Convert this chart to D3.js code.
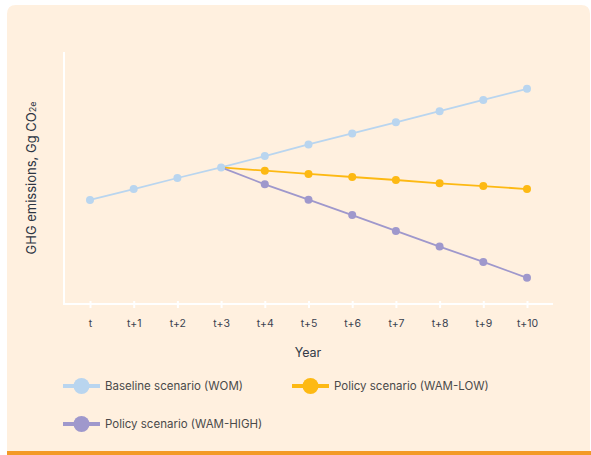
<!DOCTYPE html>
<html>
<head>
<meta charset="utf-8">
<script src="https://cdn.jsdelivr.net/npm/d3@7"></script>
<style>
  html, body { margin: 0; padding: 0; background: #ffffff; }
  svg { display: block; }
  text { font-family: Inter, "Noto Sans", sans-serif; }
</style>
</head>
<body>
<svg id="chart" width="591" height="455"></svg>
<script>
// Years on the x axis
const years = ["t", "t+1", "t+2", "t+3", "t+4", "t+5", "t+6", "t+7", "t+8", "t+9", "t+10"];

// Emission index values per scenario (null = not part of that scenario)
const baselineWOM = [41.3, 45.6, 50.0, 54.2, 58.7, 63.3, 67.7, 72.1, 76.5, 81.0, 85.4];
const policyWAMLow = [null, null, null, 54.2, 52.9, 51.6, 50.4, 49.2, 47.9, 46.8, 45.6];
const policyWAMHigh = [null, null, null, 54.2, 47.5, 41.4, 35.3, 29.0, 22.8, 16.7, 10.4];

const seriesNames = ["Baseline scenario (WOM)", "Policy scenario (WAM-LOW)", "Policy scenario (WAM-HIGH)"];
const seriesColors = ["#b9d5ef", "#fdb913", "#9f98cc"];

const svg = d3.select("#chart");

// Card background with rounded top corners and orange bottom rule
const panel = { x: 7, y: 5, w: 583, h: 450, r: 9 };
svg.append("path")
  .attr("d", `M${panel.x},${panel.y + panel.h} V${panel.y + panel.r} Q${panel.x},${panel.y} ${panel.x + panel.r},${panel.y} H${panel.x + panel.w - panel.r} Q${panel.x + panel.w},${panel.y} ${panel.x + panel.w},${panel.y + panel.r} V${panel.y + panel.h} Z`)
  .attr("fill", "#fff0df");
svg.append("rect")
  .attr("x", panel.x).attr("y", 451).attr("width", 591 - panel.x).attr("height", 4)
  .attr("fill", "#f39a26");

const plot = { left: 64, right: 553, top: 52, bottom: 304 };

const x = d3.scalePoint()
  .domain(years)
  .range([90, 527]);

const y = d3.scaleLinear()
  .domain([0, 100])
  .range([plot.bottom, plot.top]);

// Axes (white lines)
const axisColor = "#ffffff";
svg.append("line")
  .attr("x1", plot.left).attr("x2", plot.left)
  .attr("y1", plot.top).attr("y2", plot.bottom + 1)
  .attr("stroke", axisColor).attr("stroke-width", 2);

const xAxis = svg.append("g")
  .attr("transform", `translate(0,${plot.bottom})`)
  .call(d3.axisBottom(x).tickSize(0).tickPadding(16));
xAxis.select(".domain").remove();
xAxis.append("line")
  .attr("x1", plot.left - 1).attr("x2", plot.right)
  .attr("y1", 0).attr("y2", 0)
  .attr("stroke", axisColor).attr("stroke-width", 2);
xAxis.selectAll(".tick").append("line")
  .attr("y1", -3).attr("y2", 4)
  .attr("stroke", axisColor).attr("stroke-width", 2);
xAxis.selectAll(".tick text")
  .attr("fill", "#3a4250")
  .attr("font-size", 10.5)
  .attr("font-family", "Inter, 'Noto Sans', sans-serif");

// Axis titles
svg.append("text")
  .attr("x", 308).attr("y", 357)
  .attr("text-anchor", "middle")
  .attr("fill", "#333b48")
  .attr("font-size", 12.5)
  .text("Year");

const yTitle = svg.append("text")
  .attr("transform", "translate(36,178) rotate(-90)")
  .attr("text-anchor", "middle")
  .attr("fill", "#2c3442")
  .attr("font-size", 13)
  .text("GHG emissions, Gg CO");
yTitle.append("tspan").attr("font-size", 9).text("2e");

// Series lines and markers
const seriesData = [baselineWOM, policyWAMLow, policyWAMHigh];
const line = d3.line()
  .defined(d => d.v != null)
  .x(d => x(d.year))
  .y(d => y(d.v));

seriesData.forEach((vals, i) => {
  const pts = vals.map((v, j) => ({ year: years[j], v }));
  svg.append("path")
    .datum(pts)
    .attr("fill", "none")
    .attr("stroke", seriesColors[i])
    .attr("stroke-width", 1.8)
    .attr("d", line);
});

// Draw markers after lines; start point of the policy series coincides with the baseline
seriesData.forEach((vals, i) => {
  const pts = vals.map((v, j) => ({ year: years[j], v, j }))
    .filter(d => d.v != null && !(i > 0 && d.j === 3));
  svg.append("g").selectAll("circle")
    .data(pts)
    .join("circle")
    .attr("cx", d => x(d.year))
    .attr("cy", d => y(d.v))
    .attr("r", 4)
    .attr("fill", seriesColors[i]);
});

// Legend
const legendItems = [
  { x: 63, y: 386 },
  { x: 292, y: 386 },
  { x: 63, y: 424 }
];
legendItems.forEach((pos, i) => {
  const g = svg.append("g").attr("transform", `translate(${pos.x},${pos.y})`);
  g.append("line")
    .attr("x1", 0).attr("x2", 37)
    .attr("y1", 0).attr("y2", 0)
    .attr("stroke", seriesColors[i]).attr("stroke-width", 4);
  g.append("circle")
    .attr("cx", 18.5).attr("cy", 0).attr("r", 8)
    .attr("fill", seriesColors[i]);
  g.append("text")
    .attr("x", 42).attr("y", 0)
    .attr("dy", "0.35em")
    .attr("fill", "#4a4a4a")
    .attr("font-size", 11.5)
    .text(seriesNames[i]);
});
</script>
</body>
</html>
